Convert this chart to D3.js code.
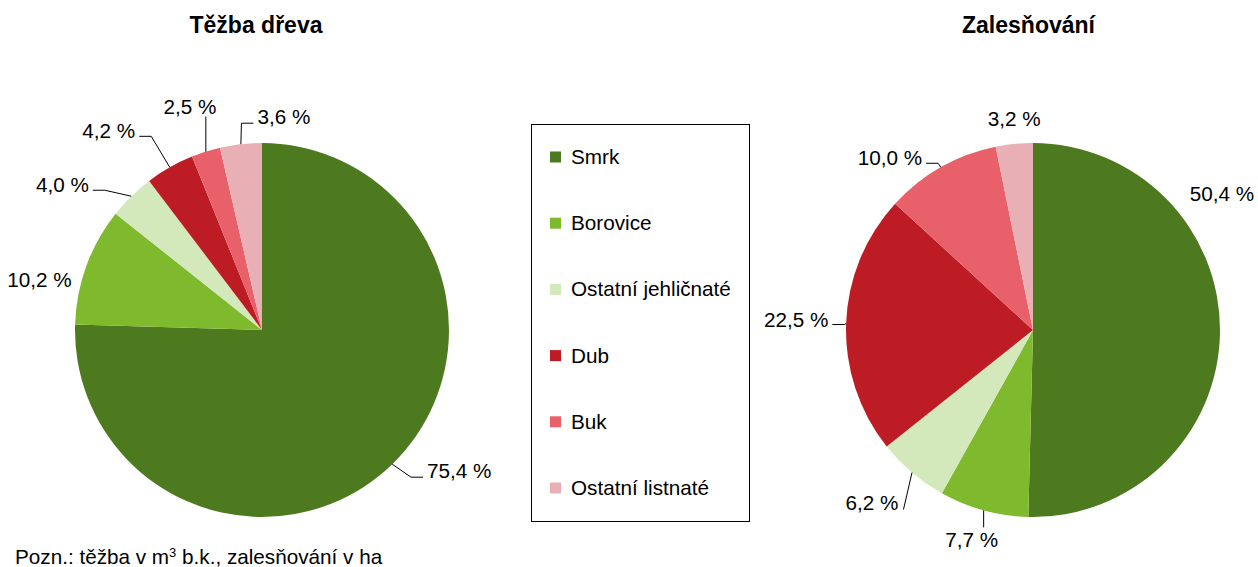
<!DOCTYPE html>
<html>
<head>
<meta charset="utf-8">
<script src="https://cdn.jsdelivr.net/npm/d3@7"></script>
<style>
  body { margin: 0; background: #fff; }
  text { font-family: "Liberation Sans", Arial, sans-serif; fill: #000; }
  .title { font-size: 23px; font-weight: bold; }
  .lbl { font-size: 20.7px; }
  .leader { fill: none; stroke: #000; stroke-width: 1; }
  .legend-box { fill: none; stroke: #000; stroke-width: 1; }
</style>
</head>
<body>
<svg id="chart" width="1258" height="567"></svg>
<script>
  // druhy dřevin, podíly v %
  var species = ['Smrk', 'Borovice', 'Ostatní jehličnaté', 'Dub', 'Buk', 'Ostatní listnaté'];
  var tezba = [75.4, 10.2, 4.0, 4.2, 2.5, 3.6];
  var zalesnovani = [50.4, 7.7, 6.2, 22.5, 10.0, 3.2];
  var colors = ['#4e7a1f', '#7fba2e', '#d3e8bb', '#be1c24', '#e8606a', '#e8b0b4'];

  // label nudges: text centre relative to the slice edge at mid angle
  var tezbaLabels = [
    {dx: 67, dy: 7, leader: 'h'},
    {dx: -47, dy: 14, leader: 'none'},
    {dx: -69, dy: -11, leader: 'h'},
    {dx: -61, dy: -36, leader: 'h'},
    {dx: -16, dy: -45, leader: 'v'},
    {dx: 43, dy: -27, leader: 'h'}
  ];
  var zalesLabels = [
    {dx: 2, dy: -138, leader: 'none'},
    {dx: -12, dy: 30, leader: 'v'},
    {dx: -40, dy: 30, leader: 'd'},
    {dx: -50, dy: -4, leader: 'h'},
    {dx: -51, dy: -9, leader: 'h'},
    {dx: 0, dy: -25, leader: 'none'}
  ];

  var svg = d3.select('#chart');
  var r = 187;
  var fmt = function(v) { return d3.format('.1f')(v).replace('.', ',') + ' %'; };

  var color = d3.scaleOrdinal().domain(species).range(colors);
  var pie = d3.pie().sort(null).value(function(d) { return d.value; });
  var arc = d3.arc().innerRadius(0).outerRadius(r);

  function drawPie(title, values, labels, cx, cy, titleX) {
    svg.append('text')
      .attr('class', 'title')
      .attr('x', titleX)
      .attr('y', 32.5)
      .attr('text-anchor', 'middle')
      .text(title);

    var data = species.map(function(s, i) { return {name: s, value: values[i]}; });
    var g = svg.append('g').attr('transform', 'translate(' + cx + ',' + cy + ')');

    var arcs = pie(data);
    g.selectAll('path')
        .data(arcs)
      .enter().append('path')
        .attr('d', arc)
        .attr('fill', function(d) { return color(d.data.name); });

    arcs.forEach(function(d, i) {
      var a = (d.startAngle + d.endAngle) / 2;
      var ex = r * Math.sin(a), ey = -r * Math.cos(a);
      var lx = ex + labels[i].dx, ly = ey + labels[i].dy;

      var t = g.append('text')
        .attr('class', 'lbl')
        .attr('x', lx)
        .attr('y', ly + 7)
        .attr('text-anchor', 'middle')
        .text(fmt(d.data.value));
      var w = t.node().getComputedTextLength();
      var left = lx - w / 2, right = lx + w / 2;

      var pts = null;
      if (labels[i].leader == 'h') {
        if (lx > ex) {
          pts = [[ex, ey], [left - 16, ly + 6], [left - 4, ly + 6]];
        } else {
          pts = [[ex, ey], [right + 16, ly + 5], [right + 4, ly + 5]];
        }
      } else if (labels[i].leader == 'v') {
        pts = [[ex, ey], [ex, ly < ey ? ly + 10 : ly - 13]];
      } else if (labels[i].leader == 'd') {
        pts = [[ex, ey], [right + 5, ly + 7]];
      }
      if (pts) {
        g.append('path')
          .attr('class', 'leader')
          .attr('d', d3.line()(pts));
      }
    });
  }

  drawPie('Těžba dřeva', tezba, tezbaLabels, 262, 330, 256);
  drawPie('Zalesňování', zalesnovani, zalesLabels, 1033, 330, 1028.5);

  // legenda
  var legend = svg.append('g');
  legend.append('rect')
    .attr('class', 'legend-box')
    .attr('x', 531.5)
    .attr('y', 124.5)
    .attr('width', 218)
    .attr('height', 397);

  var ly = d3.scalePoint().domain(species).range([157, 488]);
  var items = legend.selectAll('g.item')
      .data(species)
    .enter().append('g')
      .attr('class', 'item')
      .attr('transform', function(d) { return 'translate(0,' + ly(d) + ')'; });
  items.append('rect')
    .attr('x', 550)
    .attr('y', -5.5)
    .attr('width', 11)
    .attr('height', 11)
    .attr('fill', function(d) { return color(d); });
  items.append('text')
    .attr('class', 'lbl')
    .attr('x', 571)
    .attr('y', 7)
    .text(function(d) { return d; });

  // poznámka
  var note = svg.append('text')
    .attr('class', 'lbl')
    .attr('x', 15)
    .attr('y', 564);
  note.append('tspan').text('Pozn.: těžba v m');
  note.append('tspan').attr('dy', -7).style('font-size', '13px').text('3');
  note.append('tspan').attr('dy', 7).text(' b.k., zalesňování v ha');
</script>
</body>
</html>
